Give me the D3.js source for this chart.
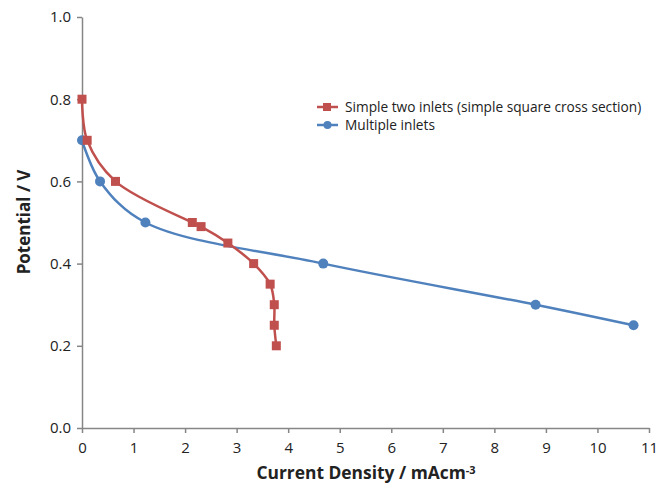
<!DOCTYPE html>
<html><head><meta charset="utf-8">
<script src="https://cdn.jsdelivr.net/npm/d3@7"></script>
<style>body{margin:0;background:#fff}svg{display:block}text{font-family:"Open Sans","Liberation Sans",sans-serif}</style>
</head><body><svg id="c" width="672" height="484"></svg>
<script>
const seriesNames = ["Simple two inlets (simple square cross section)", "Multiple inlets"];
const redX = [0, 0.1, 0.65, 2.14, 2.31, 2.83, 3.33, 3.65, 3.73, 3.73, 3.77];
const redY = [0.8, 0.7, 0.6, 0.5, 0.49, 0.45, 0.4, 0.35, 0.3, 0.25, 0.2];
const blueX = [0, 0.35, 1.23, 4.68, 8.8, 10.7];
const blueY = [0.7, 0.6, 0.5, 0.4, 0.3, 0.25];
const xTicks = [0,1,2,3,4,5,6,7,8,9,10,11];
const yTicks = [0,0.2,0.4,0.6,0.8,1.0];
const colors = ["#C0504D", "#4F81BD"];

const svg = d3.select("#c");
const x = d3.scaleLinear().domain([0, 11]).range([82, 649]);
const y = d3.scaleLinear().domain([0, 1]).range([428, 17]);

const xa = svg.append("g").attr("transform", "translate(0,428)")
  .call(d3.axisBottom(x).tickValues(xTicks).tickFormat(d3.format("d")).tickSize(5).tickSizeOuter(0));
const ya = svg.append("g").attr("transform", "translate(82,0)")
  .call(d3.axisLeft(y).tickValues(yTicks).tickFormat(d3.format(".1f")).tickSize(5).tickSizeOuter(0));
[xa, ya].forEach(a => {
  a.selectAll("path,line").attr("stroke", "#868686").attr("stroke-width", 1.5);
  a.selectAll("text").attr("fill", "#222").style("font-size", "15px");
});
xa.selectAll("text").attr("dy", "1.1em");
ya.selectAll("text").attr("dx", "-0.2em");

const line = d3.line().x(d => x(d[0])).y(d => y(d[1])).curve(d3.curveCatmullRom.alpha(0.5));
const red = redX.map((v, i) => [v, redY[i]]);
const blue = blueX.map((v, i) => [v, blueY[i]]);

svg.append("path").datum(blue).attr("d", line).attr("fill", "none").attr("stroke", colors[1]).attr("stroke-width", 2.5);
svg.append("path").datum(red).attr("d", line).attr("fill", "none").attr("stroke", colors[0]).attr("stroke-width", 2.5);

svg.append("g").selectAll("circle").data(blue).join("circle")
  .attr("cx", d => x(d[0])).attr("cy", d => y(d[1])).attr("r", 5).attr("fill", colors[1]);
svg.append("g").selectAll("rect").data(red).join("rect")
  .attr("x", d => x(d[0]) - 4.5).attr("y", d => y(d[1]) - 4.5).attr("width", 9).attr("height", 9).attr("fill", colors[0]);

// legend
const lg = svg.append("g");
seriesNames.forEach((n, i) => {
  const ly = 107 + i * 18;
  lg.append("line").attr("x1", 317).attr("x2", 338).attr("y1", ly).attr("y2", ly).attr("stroke", colors[i]).attr("stroke-width", 2.5);
  if (i === 0) lg.append("rect").attr("x", 323).attr("y", ly - 4).attr("width", 8).attr("height", 8).attr("fill", colors[i]);
  else lg.append("circle").attr("cx", 327.5).attr("cy", ly).attr("r", 4).attr("fill", colors[i]);
  lg.append("text").attr("x", 345).attr("y", ly).attr("dy", "0.35em").style("font-size", "13.7px").attr("fill", "#222").text(n);
});

// axis titles
svg.append("text").attr("transform", "translate(30,222) rotate(-90)").attr("text-anchor", "middle")
  .style("font-size", "17px").style("font-weight", "bold").attr("fill", "#222").text("Potential / V");
const xt = svg.append("text").attr("x", 366).attr("y", 479).attr("text-anchor", "middle")
  .style("font-size", "17.4px").style("font-weight", "bold").attr("fill", "#222");
xt.append("tspan").text("Current Density / mAcm");
xt.append("tspan").attr("dy", "-0.5em").style("font-size", "11px").text("-3");
</script></body></html>
